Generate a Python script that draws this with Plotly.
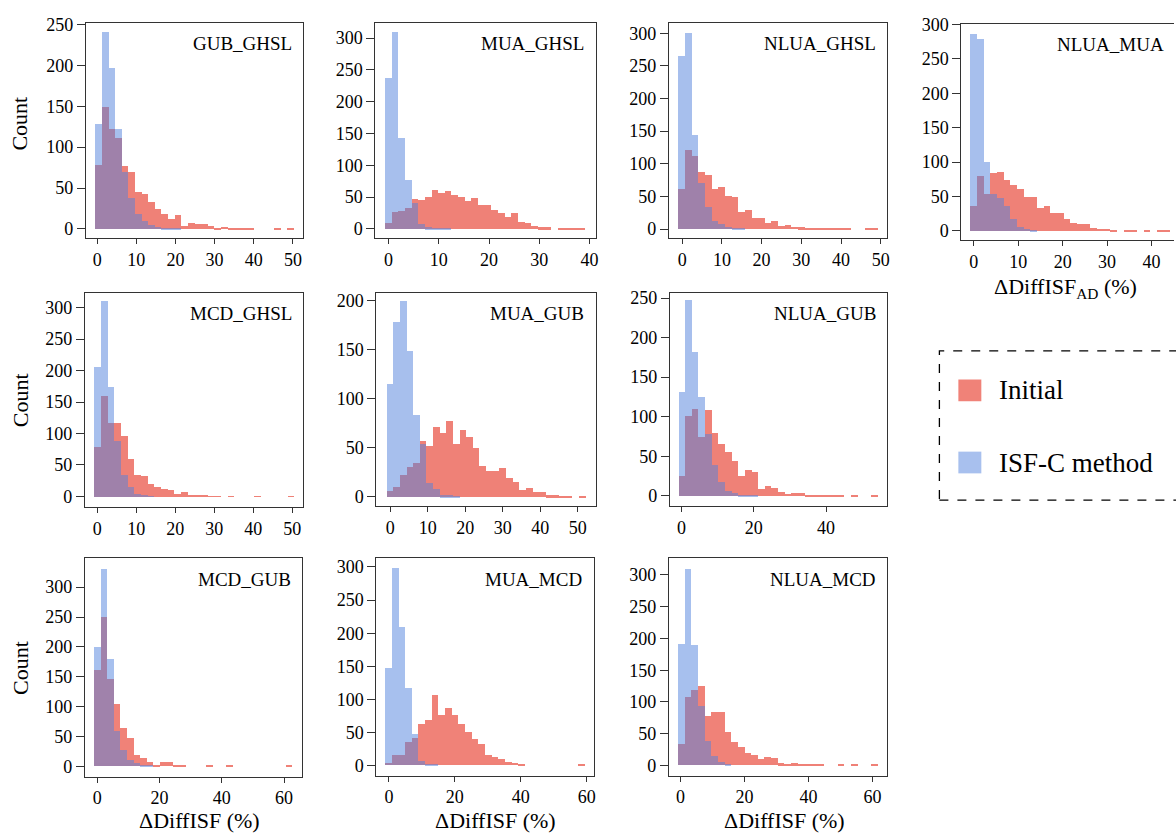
import plotly.graph_objects as go

# ---------------- data: 30 shared bins per comparison ----------------
panel_titles = ["GUB_GHSL", "MUA_GHSL", "NLUA_GHSL", "NLUA_MUA",
                "MCD_GHSL", "MUA_GUB", "NLUA_GUB",
                "MCD_GUB", "MUA_MCD", "NLUA_MCD"]
bin_starts = [-0.51, -0.66, -1.0, -0.68, -0.77, -0.89, -0.83, -1.06, -1.0, -0.83]
bin_widths = [1.69, 1.325, 1.675, 1.5, 1.71, 1.77, 1.835, 2.12, 2.016, 2.08]

initial_gub_ghsl = [78, 149, 122, 111, 77, 70, 46, 43, 33, 25, 19, 13, 17, 4, 8,
                    6, 6, 4, 2, 3, 2, 1, 1, 1, 0, 0, 0, 1, 0, 1]
isfc_gub_ghsl = [129, 241, 197, 123, 70, 38, 19, 10, 5, 3, 2, 1, 1]

initial_mua_ghsl = [10, 27, 28, 33, 47, 46, 50, 61, 57, 60, 54, 50, 44, 49, 38,
                    38, 30, 25, 19, 26, 11, 10, 5, 3, 3, 0, 2, 2, 1, 1]
isfc_mua_ghsl = [238, 310, 143, 78, 41, 8, 3, 2, 2, 1]

initial_nlua_ghsl = [61, 122, 112, 88, 83, 62, 65, 51, 49, 26, 30, 18, 17, 9, 12,
                     5, 7, 4, 3, 2, 1, 1, 2, 1, 1, 1, 0, 0, 2, 1]
isfc_nlua_ghsl = [265, 301, 144, 71, 34, 13, 8, 4, 2, 1]

initial_nlua_mua = [37, 80, 54, 84, 86, 74, 67, 61, 50, 50, 33, 36, 27, 26, 17,
                    12, 10, 10, 4, 3, 3, 2, 0, 1, 1, 0, 1, 0, 1, 2]
isfc_nlua_mua = [287, 279, 100, 54, 48, 36, 17, 6, 3, 1]

initial_mcd_ghsl = [79, 161, 117, 117, 97, 60, 35, 33, 21, 16, 12, 11, 4, 7, 3,
                    3, 2, 1, 1, 0, 1, 0, 0, 0, 1, 0, 0, 0, 0, 1]
isfc_mcd_ghsl = [206, 312, 174, 89, 35, 15, 5, 2, 1]

initial_mua_gub = [6, 10, 23, 31, 35, 57, 52, 71, 65, 78, 54, 68, 61, 50, 32,
                   27, 27, 30, 20, 15, 7, 9, 5, 5, 2, 2, 1, 1, 0, 1]
isfc_mua_gub = [115, 178, 200, 149, 84, 54, 14, 8, 2, 2, 1]

initial_nlua_gub = [25, 102, 110, 75, 109, 80, 66, 56, 45, 26, 33, 30, 9, 13, 11,
                    5, 3, 4, 4, 2, 1, 1, 1, 2, 1, 0, 1, 0, 0, 1]
isfc_nlua_gub = [132, 248, 183, 125, 79, 40, 18, 6, 4, 2, 1, 1]

initial_mcd_gub = [161, 249, 146, 105, 65, 47, 19, 14, 7, 3, 8, 8, 3, 1, 0,
                   0, 0, 1, 0, 0, 1, 0, 0, 0, 0, 0, 0, 0, 0, 1]
isfc_mcd_gub = [199, 329, 180, 60, 27, 11, 5, 3, 1]

initial_mua_mcd = [4, 15, 15, 36, 41, 63, 69, 107, 76, 87, 76, 63, 50, 40, 32,
                   15, 13, 9, 5, 4, 2, 0, 0, 0, 0, 0, 0, 0, 0, 1]
isfc_mua_mcd = [147, 298, 209, 117, 47, 7, 2, 1]

initial_nlua_mcd = [34, 108, 118, 124, 77, 84, 83, 53, 36, 28, 19, 16, 10, 13, 12,
                    3, 2, 3, 2, 1, 2, 2, 0, 0, 1, 0, 1, 0, 0, 1]
isfc_nlua_mcd = [191, 309, 189, 93, 38, 15, 5, 2]

initial_series = [initial_gub_ghsl, initial_mua_ghsl, initial_nlua_ghsl, initial_nlua_mua,
                  initial_mcd_ghsl, initial_mua_gub, initial_nlua_gub,
                  initial_mcd_gub, initial_mua_mcd, initial_nlua_mcd]
isfc_series = [isfc_gub_ghsl, isfc_mua_ghsl, isfc_nlua_ghsl, isfc_nlua_mua,
               isfc_mcd_ghsl, isfc_mua_gub, isfc_nlua_gub,
               isfc_mcd_gub, isfc_mua_mcd, isfc_nlua_mcd]

# ---------------- layout settings ----------------
W, H = 1176, 834
FONT = "Liberation Serif, Times New Roman, serif"
RED, RED_ALPHA = "rgb(230,47,30)", 0.6
BLUE, BLUE_ALPHA = "rgb(81,129,221)", 0.5
LINE = "#333333"

# panel frames in pixels: left, right, top, bottom
frames = [(86, 304, 14, 232), (376, 597, 14, 232), (670, 889, 14, 232), (963, 1176, 15, 234),
          (85, 304, 287, 504), (377, 597, 287, 503), (671, 889, 287, 503),
          (85, 303, 556, 777), (377, 595, 556, 776), (670, 889, 556, 776)]
x_ranges = [(-2.88, 52.7), (-2.64, 41.3), (-3.35, 51.7), (-2.8, 45.07), (-3.15, 52.9),
            (-3.73, 54.9), (-3.2, 57.0), (-3.95, 65.9), (-3.8, 62.2), (-3.63, 64.7)]
y_ranges = [(-11.3, 252), (-14.5, 324), (-14, 316), (-13.4, 301), (-16.8, 324),
            (-9.4, 208), (-12.9, 257), (-16.5, 348), (-15, 313), (-16, 326)]
x_ticks = [list(range(0, 51, 10)), list(range(0, 41, 10)), list(range(0, 51, 10)),
           list(range(0, 41, 10)), list(range(0, 51, 10)), list(range(0, 51, 10)),
           [0, 20, 40], [0, 20, 40, 60], [0, 20, 40, 60], [0, 20, 40, 60]]
y_ticks = [list(range(0, 251, 50)), list(range(0, 301, 50)), list(range(0, 301, 50)),
           list(range(0, 301, 50)), list(range(0, 301, 50)), list(range(0, 201, 50)),
           list(range(0, 251, 50)), list(range(0, 301, 50)), list(range(0, 301, 50)),
           list(range(0, 301, 50))]

fig = go.Figure()
layout = {}
annotations = []

for i, title in enumerate(panel_titles):
    n = i + 1
    suffix = "" if n == 1 else str(n)
    start, width = bin_starts[i], bin_widths[i]

    for counts, color, alpha in ((initial_series[i], RED, RED_ALPHA),
                                 (isfc_series[i], BLUE, BLUE_ALPHA)):
        centers = [start + width * (k + 0.5) for k in range(len(counts))]
        fig.add_trace(go.Bar(
            x=centers, y=counts, width=width,
            marker=dict(color=color, line=dict(width=0)),
            opacity=alpha, showlegend=False,
            xaxis="x" + suffix, yaxis="y" + suffix,
        ))

    left, right, top, bottom = frames[i]
    common = dict(showgrid=False, zeroline=False, showline=True, linecolor=LINE,
                  linewidth=1, ticks="outside", tickcolor=LINE, tickwidth=1,
                  tickfont=dict(family=FONT, size=18, color="black"))
    layout["xaxis" + suffix] = dict(
        domain=[left / W, right / W], range=list(x_ranges[i]),
        tickvals=x_ticks[i], ticklen=5, mirror=True,
        anchor="y" + suffix, **common)
    layout["yaxis" + suffix] = dict(
        domain=[1 - bottom / H, 1 - top / H], range=list(y_ranges[i]),
        tickvals=y_ticks[i], ticklen=8, mirror=(n != 4),
        anchor="x" + suffix, **common)

    # comparison name in the upper-right corner of each panel
    annotations.append(dict(
        text=title, xref="paper", yref="paper",
        x=(right - (8 if n == 4 else 10)) / W, y=1 - (top + 21) / H,
        xanchor="right", yanchor="middle", showarrow=False,
        font=dict(family=FONT, size=19, color="black")))

# y-axis titles for each row
for yc in (116, 396, 667):
    annotations.append(dict(
        text="Count", xref="paper", yref="paper", x=20 / W, y=1 - yc / H,
        xanchor="center", yanchor="middle", textangle=-90, showarrow=False,
        font=dict(family=FONT, size=22, color="black")))

# x-axis titles
for xc in (200, 496, 786):
    annotations.append(dict(
        text="ΔDiffISF (%)", xref="paper", yref="paper", x=xc / W, y=1 - 821 / H,
        xanchor="center", yanchor="middle", showarrow=False,
        font=dict(family=FONT, size=22, color="black")))
annotations.append(dict(
    text="ΔDiffISF<sub>AD</sub> (%)", xref="paper", yref="paper", x=1067 / W, y=1 - 282 / H,
    xanchor="center", yanchor="middle", showarrow=False,
    font=dict(family=FONT, size=22, color="black")))

# legend drawn in a dashed box
shapes = [
    dict(type="rect", xref="paper", yref="paper",
         x0=941 / W, x1=1.03, y0=1 - 497 / H, y1=1 - 346 / H,
         line=dict(color="black", width=1.3, dash="dash"), fillcolor="rgba(0,0,0,0)"),
    dict(type="rect", xref="paper", yref="paper",
         x0=960 / W, x1=983 / W, y0=1 - 397 / H, y1=1 - 375 / H,
         line=dict(width=0), fillcolor=RED, opacity=RED_ALPHA),
    dict(type="rect", xref="paper", yref="paper",
         x0=960 / W, x1=983 / W, y0=1 - 470 / H, y1=1 - 448 / H,
         line=dict(width=0), fillcolor=BLUE, opacity=BLUE_ALPHA),
]
for label, yc in (("Initial", 386), ("ISF-C method", 460)):
    annotations.append(dict(
        text=label, xref="paper", yref="paper", x=999 / W, y=1 - yc / H,
        xanchor="left", yanchor="middle", showarrow=False,
        font=dict(family=FONT, size=27, color="black")))

fig.update_layout(
    width=W, height=H, margin=dict(l=0, r=0, t=0, b=0),
    paper_bgcolor="white", plot_bgcolor="white",
    barmode="overlay", bargap=0,
    annotations=annotations, shapes=shapes, **layout)

fig.write_html("out.html")
